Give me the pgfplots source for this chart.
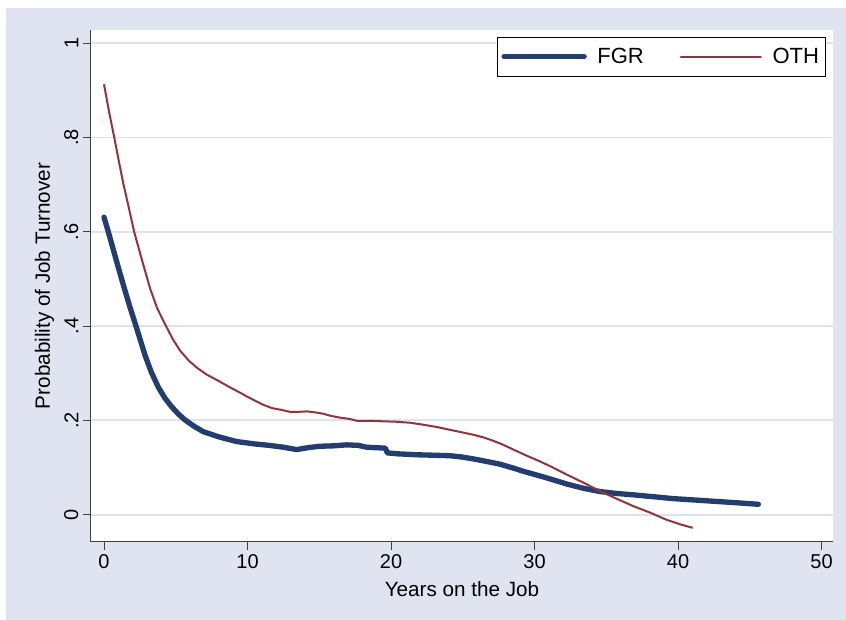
\documentclass[border=0pt]{standalone}
\usepackage{pgfplots}
\pgfplotsset{compat=1.18}
\usepackage{fontspec}
\setmainfont{Liberation Sans}
\definecolor{bgc}{RGB}{224,228,240}
\definecolor{gridc}{RGB}{221,226,238}
\definecolor{fgr}{RGB}{35,61,110}
\definecolor{oth}{RGB}{144,53,59}
\begin{document}
\begin{tikzpicture}
\useasboundingbox (-68.25pt,-58.5pt) rectangle (566.25pt,406.5pt);
\fill[white] (-68.25pt,-58.5pt) rectangle (566.25pt,406.5pt);
\fill[bgc] (-63.75pt,-58.5pt) rectangle (566.25pt,400.5pt);
\begin{axis}[
  at={(0pt,0pt)}, anchor=south west,
  scale only axis, width=556.5pt, height=384pt,
  xmin=-0.906, xmax=50.8, ymin=-0.058, ymax=1.028,
  axis background/.style={fill=white},
  axis x line*=bottom, axis y line*=left,
  axis line style={black!75, line width=0.75pt, -},
  tick style={black!75, line width=0.75pt},
  tick align=outside, major tick length=6pt,
  xtick={0,10,20,30,40,50},
  ytick={0,0.2,0.4,0.6,0.8,1},
  yticklabels={0,.2,.4,.6,.8,1},
  /pgf/number format/assume math mode=true,
  ymajorgrids, grid style={gridc, line width=1.3pt},
  ticklabel style={font=\fontsize{15}{17}\selectfont},
  yticklabel style={rotate=90, anchor=south},
  xlabel={Years on the Job},
  ylabel={Probability of Job Turnover},
  label style={font=\fontsize{15.5}{18}\selectfont},
  xlabel style={at={(axis description cs:0.5,-0.1068)}, anchor=base},
  ylabel style={at={(axis description cs:-0.05526,0.5)}, rotate=0, anchor=base},
  legend columns=2,
  legend style={at={(0.9906,0.9863)}, anchor=north east, draw=black, line width=0.6pt,
    font=\fontsize{16.5}{18}\selectfont, inner xsep=3pt, inner ysep=6pt,
    /tikz/every even column/.append style={column sep=25pt},
    /tikz/every odd column/.append style={column sep=6pt}},
  legend image code/.code={\draw[#1,line cap=round] (0pt,0pt) -- (60pt,0pt);},
]
\addplot[fgr, line width=4pt, line join=round, line cap=round] coordinates {
(0,0.631) (0.30,0.600) (0.65,0.562) (1.0,0.524) (1.34,0.488) (1.8,0.441)
(2.28,0.395) (2.86,0.338) (3.3,0.302) (3.79,0.270) (4.25,0.247) (4.71,0.229)
(5.2,0.213) (5.64,0.201) (6.3,0.187) (6.92,0.176) (8.0,0.165) (9.25,0.155)
(10.5,0.150) (11.5,0.147) (12.5,0.143) (13.43,0.138) (14.2,0.142) (15.0,0.145)
(16.0,0.146) (16.9,0.148) (17.7,0.147) (18.31,0.143) (19.0,0.142) (19.6,0.141)
(19.75,0.131) (20.5,0.129) (21.8,0.127) (23.0,0.126) (24.1,0.125) (25.0,0.122)
(25.97,0.117) (26.8,0.112) (27.6,0.107) (28.5,0.099) (29.22,0.092) (29.92,0.086)
(30.85,0.078) (32.24,0.065) (33.4,0.056) (34.56,0.049) (35.7,0.045) (36.89,0.042)
(38.3,0.038) (39.67,0.034) (41.2,0.031) (42.7,0.028) (44.2,0.025) (45.6,0.022)
};
\addlegendentry{FGR}
\addplot[oth, line width=1.5pt, line join=round] coordinates {
(0,0.913) (0.35,0.855) (0.72,0.799) (1.0,0.755) (1.34,0.703) (1.70,0.655)
(2.10,0.600) (2.6,0.545) (3.21,0.480) (3.7,0.438) (4.32,0.400) (4.8,0.372)
(5.30,0.348) (5.9,0.327) (6.5,0.311) (7.16,0.297) (7.9,0.285) (8.78,0.270)
(9.4,0.260) (9.94,0.251) (10.5,0.242) (11.1,0.233) (11.7,0.226) (12.4,0.222)
(12.96,0.218) (13.5,0.218) (14.13,0.219) (14.7,0.217) (15.28,0.214) (15.75,0.210)
(16.4,0.206) (17.14,0.203) (17.61,0.199) (18.5,0.199) (19.46,0.198) (20.4,0.197)
(21.32,0.195) (22.2,0.191) (23.18,0.186) (24.1,0.180) (25.04,0.174) (25.8,0.169)
(26.43,0.164) (27.1,0.157) (27.83,0.148) (28.6,0.137) (29.46,0.125) (30.3,0.114)
(31.08,0.103) (32.24,0.085) (33.4,0.068) (34.56,0.050) (35.7,0.034) (36.89,0.018)
(38.0,0.005) (39.21,-0.011) (40.2,-0.021) (41.02,-0.028)
};
\addlegendentry{OTH}
\end{axis}
\end{tikzpicture}
\end{document}
